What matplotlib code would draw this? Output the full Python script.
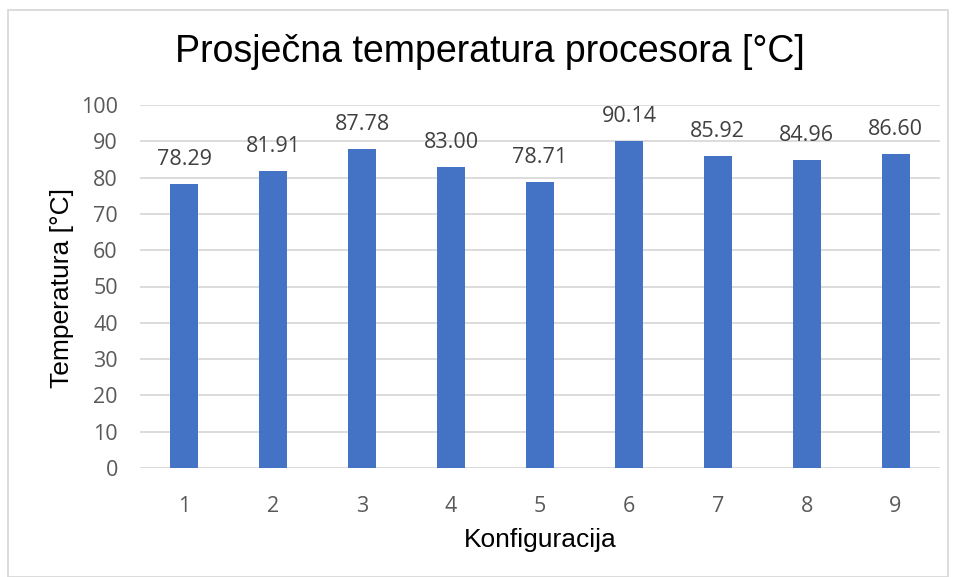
import matplotlib
matplotlib.use("Agg")
import matplotlib.pyplot as plt
from matplotlib.patches import Rectangle

# data ======================================================================
konfiguracije = ["1", "2", "3", "4", "5", "6", "7", "8", "9"]
temperature = [78.29, 81.91, 87.78, 83.00, 78.71, 90.14, 85.92, 84.96, 86.60]
y_ticks = [0, 10, 20, 30, 40, 50, 60, 70, 80, 90, 100]

# figure ====================================================================
fig = plt.figure(figsize=(9.56, 5.77), dpi=100)
ax = fig.add_axes([140/956, 1 - 468/577, 800/956, (468 - 105)/577])

x = range(len(konfiguracije))
bars = ax.bar(x, temperature, width=0.315, color="#4472C4", zorder=3)
ax.bar_label(bars, labels=[f"{v:.2f}" for v in temperature], padding=10,
             fontsize=15.5, color="#404040", family="Open Sans")

ax.set_xlim(-0.5, len(konfiguracije) - 0.5)
ax.set_ylim(0, 100)
ax.set_yticks(y_ticks)
ax.set_xticks(list(x))
ax.set_xticklabels(konfiguracije)
for lab in ax.get_xticklabels() + ax.get_yticklabels():
    lab.set_family("Open Sans")
    lab.set_fontsize(15.5)
    lab.set_color("#595959")
ax.tick_params(axis="y", length=0, pad=16)
ax.tick_params(axis="x", length=0, pad=20)

ax.grid(axis="y", color="#D9D9D9", linewidth=1.3, zorder=0)
for s in ax.spines.values():
    s.set_visible(False)

fig.text(490/956, 1 - 52/577, "Prosječna temperatura procesora [°C]",
         ha="center", va="center", fontsize=27, family="Liberation Sans")
fig.text(62/956, 1 - 288/577, "Temperatura [°C]", rotation=90,
         ha="center", va="center", fontsize=19, family="Liberation Sans")
fig.text(540/956, 1 - 540/577, "Konfiguracija",
         ha="center", va="center", fontsize=19, family="Liberation Sans")

# chart border
fig.patches.append(Rectangle((8/956, 0), 940/956, 1 - 10/577,
                             transform=fig.transFigure, fill=False,
                             edgecolor="#D9D9D9", linewidth=1.3))

fig.savefig("out.png", dpi=100)
